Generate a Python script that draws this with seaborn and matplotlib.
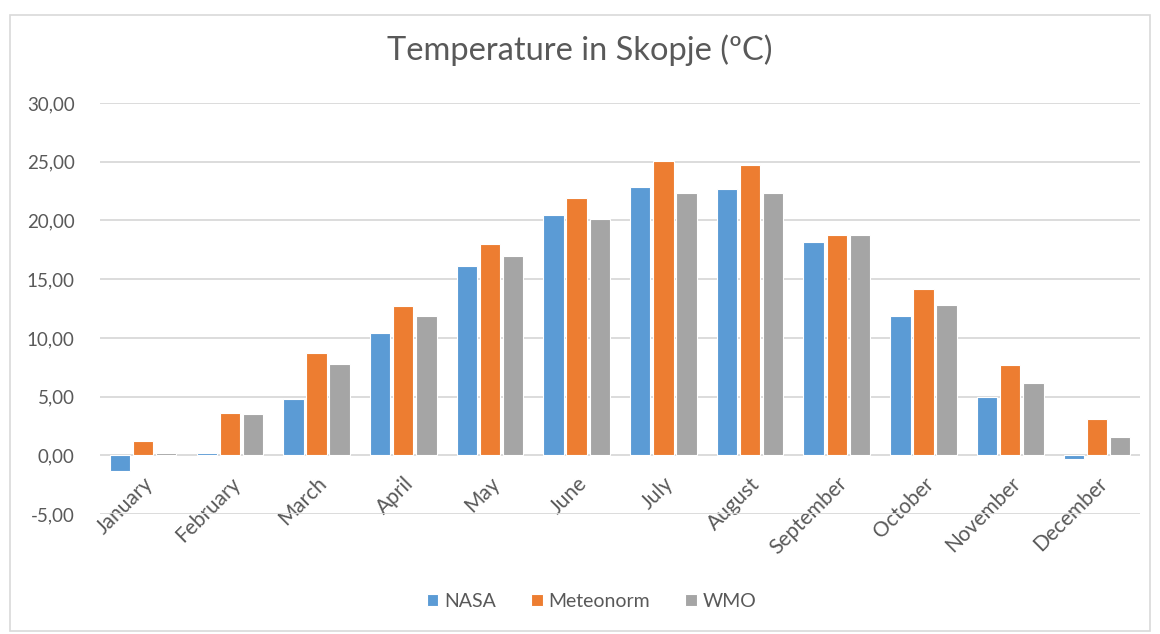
import pandas as pd
import matplotlib
matplotlib.use('Agg')
import matplotlib.pyplot as plt
import seaborn as sns
from matplotlib.ticker import FuncFormatter, MultipleLocator
from matplotlib.patches import Rectangle

# Data
months = ['January', 'February', 'March', 'April', 'May', 'June',
          'July', 'August', 'September', 'October', 'November', 'December']
nasa = [-1.3, 0.25, 4.8, 10.4, 16.1, 20.45, 22.85, 22.7, 18.15, 11.85, 4.95, -0.3]
meteonorm = [1.2, 3.6, 8.7, 12.7, 18.0, 21.9, 25.05, 24.7, 18.75, 14.2, 7.7, 3.1]
wmo = [0.2, 3.5, 7.75, 11.9, 17.0, 20.1, 22.3, 22.3, 18.75, 12.8, 6.2, 1.55]
sources = ['NASA', 'Meteonorm', 'WMO']
colors = ['#5B9BD5', '#ED7D31', '#A5A5A5']

df = pd.DataFrame({'Month': months * 3,
                   'Source': [s for s in sources for _ in months],
                   'Temp': nasa + meteonorm + wmo})

sns.set_style('white')
plt.rcParams['font.family'] = ['Lato', 'DejaVu Sans']
text_color = '#595959'

fig = plt.figure(figsize=(11.6, 6.34), dpi=100)
ax = fig.add_axes([0.086, 0.189, 0.897, 0.6485])

sns.barplot(data=df, x='Month', y='Temp', hue='Source', palette=colors, saturation=1,
            width=0.8, gap=0.12, edgecolor='white', linewidth=0.8, ax=ax, legend=True)

ax.set_ylim(-5, 30)
ax.yaxis.set_major_locator(MultipleLocator(5))
ax.yaxis.set_major_formatter(FuncFormatter(lambda v, p: f'{v:.2f}'.replace('.', ',')))
ax.grid(axis='y', color='#D9D9D9', linewidth=1.3)
ax.set_axisbelow(True)
# category labels sit at the zero line, like the Excel original
ax.spines['bottom'].set_position(('data', 0))
for s in ax.spines.values():
    s.set_visible(False)
ax.set_xlabel('')
ax.set_ylabel('')
ax.tick_params(axis='y', length=0, colors=text_color, labelsize=13.5, pad=18)
ax.tick_params(axis='x', length=0, colors=text_color, labelsize=15, pad=13)
plt.setp(ax.get_xticklabels(), rotation=45, ha='right', rotation_mode='anchor')
ax.set_xlim(-0.5, 11.5)

fig.suptitle('Temperature in Skopje (ºC)', y=0.945, fontsize=23.5, color=text_color)

ax.get_legend().remove()
handles, labels = ax.get_legend_handles_labels()
fig.legend(handles, labels, loc='center', bbox_to_anchor=(0.51, 0.052), ncol=3, frameon=False,
           fontsize=14, labelcolor=text_color, handlelength=0.6, handleheight=0.6,
           handletextpad=0.3, columnspacing=1.8)

fig.patches.append(Rectangle((0.009, 0.005), 0.982, 0.972, transform=fig.transFigure,
                             fill=False, edgecolor='#D9D9D9', linewidth=1.2))

plt.savefig('out.png', dpi=100)
